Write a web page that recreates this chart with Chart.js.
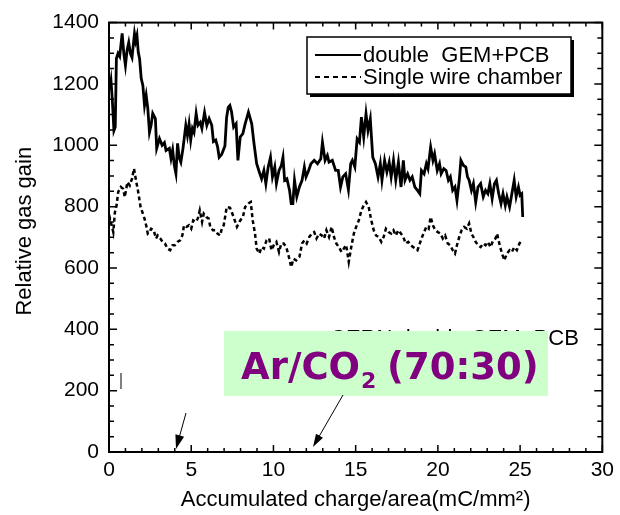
<!DOCTYPE html>
<html><head><meta charset="utf-8">
<script src="https://cdn.jsdelivr.net/npm/chart.js@4"></script>
<style>html,body{margin:0;padding:0;background:#fff}canvas{display:block}</style>
</head><body>
<canvas id="c" width="620" height="515"></canvas>
<script>
// ---- data ----
const gemX = [0.0,0.06,0.12,0.2,0.3,0.38,0.45,0.55,0.65,0.8,0.9,1.0,1.1,1.2,1.3,1.4,1.55,1.62,1.7,1.78,1.86,1.96,2.06,2.16,2.26,2.36,2.46,2.56,2.66,2.82,2.9,3.07,3.23,3.37,3.47,3.67,3.77,3.87,3.97,4.07,4.17,4.27,4.37,4.5,4.67,4.77,4.87,4.97,5.07,5.17,5.3,5.41,5.55,5.65,5.81,5.95,6.09,6.25,6.35,6.49,6.6,6.7,6.85,7.05,7.15,7.25,7.35,7.45,7.58,7.73,7.84,7.98,8.14,8.28,8.48,8.68,8.82,8.98,9.14,9.28,9.42,9.54,9.68,9.82,9.94,10.08,10.18,10.34,10.48,10.58,10.68,10.82,10.98,11.08,11.18,11.28,11.42,11.58,11.74,11.88,11.98,12.14,12.28,12.48,12.68,12.88,12.98,13.14,13.28,13.38,13.58,13.78,13.94,14.08,14.22,14.39,14.56,14.7,14.8,14.95,15.09,15.23,15.35,15.49,15.63,15.75,15.89,16.04,16.2,16.36,16.5,16.6,16.76,16.9,17.04,17.16,17.3,17.44,17.6,17.76,17.9,18.0,18.16,18.3,18.44,18.6,18.76,18.9,19.0,19.16,19.3,19.4,19.56,19.7,19.8,19.96,20.1,20.2,20.36,20.5,20.64,20.76,20.9,21.04,21.16,21.3,21.4,21.56,21.7,21.8,21.9,22.04,22.16,22.3,22.44,22.6,22.76,22.9,23.04,23.16,23.3,23.44,23.56,23.7,23.84,23.96,24.1,24.2,24.36,24.5,24.64,24.76,24.9,25.0,25.1,25.16];
const gemY = [1185,1190,1211,1150,1048,1060,1283,1300,1290,1365,1300,1260,1310,1335,1300,1286,1364,1340,1358,1303,1282,1218,1195,1130,1163,1120,1042,1065,1104,1087,990,1022,1000,1009,983,990,957,985,935,908,1006,960,945,990,1065,1032,1070,1017,1055,1042,1104,1065,1075,1055,1107,1065,1087,1065,1012,1017,996,961,970,998,1090,1124,1130,1110,1059,1070,951,1027,1038,1070,1108,1070,1005,940,913,891,918,875,929,961,897,929,875,918,934,961,886,891,853,810,810,886,832,864,886,929,897,918,940,951,940,956,1010,951,967,945,951,918,918,864,897,907,855,940,951,929,1021,1010,1092,1027,1103,1048,1086,961,940,897,940,886,951,913,945,897,951,886,945,864,951,886,907,886,897,864,853,842,918,907,940,924,994,951,972,918,940,907,924,918,886,897,853,864,820,886,951,934,929,897,886,853,875,815,864,875,832,853,842,875,826,875,886,842,810,842,804,832,799,842,886,832,864,837,842,766];
const wireX = [0.0,0.06,0.16,0.26,0.36,0.46,0.56,0.72,0.86,0.96,1.12,1.26,1.4,1.52,1.66,1.76,1.92,2.06,2.16,2.26,2.36,2.46,2.56,2.72,2.86,2.96,3.12,3.26,3.4,3.56,3.72,3.86,4.0,4.16,4.32,4.46,4.56,4.72,4.86,5.0,5.12,5.26,5.4,5.52,5.66,5.76,5.92,6.06,6.16,6.32,6.46,6.6,6.76,6.86,6.98,7.16,7.36,7.58,7.78,7.98,8.14,8.28,8.48,8.62,8.74,8.88,8.98,9.14,9.28,9.42,9.58,9.74,9.88,10.02,10.18,10.34,10.48,10.62,10.78,10.94,11.08,11.22,11.38,11.58,11.74,11.88,12.02,12.18,12.34,12.48,12.62,12.78,12.94,13.08,13.22,13.38,13.54,13.68,13.82,13.98,14.14,14.28,14.42,14.58,14.75,14.89,15.03,15.19,15.35,15.49,15.63,15.79,15.95,16.1,16.24,16.4,16.56,16.7,16.84,17.0,17.16,17.3,17.44,17.6,17.76,17.9,18.04,18.2,18.36,18.5,18.64,18.76,18.9,19.04,19.16,19.3,19.44,19.56,19.7,19.84,20.0,20.16,20.3,20.44,20.6,20.76,20.9,21.04,21.16,21.3,21.44,21.6,21.76,21.9,22.04,22.16,22.3,22.44,22.6,22.76,22.9,23.04,23.2,23.36,23.5,23.6,23.76,23.9,24.04,24.2,24.36,24.5,24.64,24.8,24.96,25.1];
const wireY = [750,761,739,717,782,804,848,864,858,831,880,869,891,924,880,853,799,777,761,739,712,717,728,723,696,706,696,685,680,663,658,674,674,685,690,706,739,734,739,728,755,750,761,788,750,777,766,761,734,723,723,712,706,728,740,799,796,766,734,755,766,799,810,815,755,712,663,647,668,663,690,696,658,674,685,652,680,680,668,636,603,630,625,636,680,690,680,701,712,717,696,712,706,696,723,701,734,701,680,668,652,663,675,620,674,712,734,755,788,804,815,799,755,723,706,701,685,701,728,717,712,723,706,723,712,701,680,685,674,668,663,658,680,701,717,734,728,766,739,723,717,712,696,706,680,674,658,647,674,701,723,734,728,745,712,701,685,674,668,680,674,685,668,690,696,712,674,647,625,647,658,652,668,658,680,690];
const seriesLabels = ['double  GEM+PCB', 'Single wire chamber'];
const xTitle = 'Accumulated charge/area(mC/mm\u00B2)';
const yTitle = 'Relative gas gain';
const xRange = [0, 30], xMajor = 5, xMinor = 1;
const yRange = [0, 1400], yMajor = 200, yMinor = 50;
const gasParts = ['Ar/CO', '2', '(70:30)'];
const hiddenNote = 'CERN double GEM+PCB';

const F = "'Liberation Sans', Arial, sans-serif";
const toPts = (xs, ys) => xs.map((v, i) => ({x: v, y: ys[i]}));

function arrow(ctx, x0, y0, x1, y1, hl, hw) {
  const ang = Math.atan2(y1 - y0, x1 - x0);
  ctx.beginPath(); ctx.moveTo(x0, y0);
  ctx.lineTo(x1 - Math.cos(ang) * hl * 0.8, y1 - Math.sin(ang) * hl * 0.8); ctx.stroke();
  ctx.beginPath(); ctx.moveTo(x1, y1);
  ctx.lineTo(x1 - Math.cos(ang) * hl + Math.sin(ang) * hw, y1 - Math.sin(ang) * hl - Math.cos(ang) * hw);
  ctx.lineTo(x1 - Math.cos(ang) * hl - Math.sin(ang) * hw, y1 - Math.sin(ang) * hl + Math.cos(ang) * hw);
  ctx.closePath(); ctx.fill();
}

const deco = {
  id: 'deco',
  afterDatasetsDraw(chart) {
    const {ctx, chartArea: a, scales: {x, y}} = chart;
    ctx.save();
    ctx.strokeStyle = '#000'; ctx.fillStyle = '#000';
    // inward ticks on all four sides
    ctx.lineWidth = 1.5;
    ctx.beginPath();
    for (let v = xRange[0]; v <= xRange[1]; v += xMinor) {
      const px = x.getPixelForValue(v), L = v % xMajor === 0 ? 7 : 4;
      ctx.moveTo(px, a.bottom); ctx.lineTo(px, a.bottom - L);
      ctx.moveTo(px, a.top); ctx.lineTo(px, a.top + L);
    }
    for (let v = yRange[0]; v <= yRange[1]; v += yMinor) {
      const py = y.getPixelForValue(v), L = v % yMajor === 0 ? 8 : 5;
      ctx.moveTo(a.left, py); ctx.lineTo(a.left + L, py);
      ctx.moveTo(a.right, py); ctx.lineTo(a.right - L, py);
    }
    ctx.stroke();
    ctx.lineWidth = 2;
    ctx.strokeRect(a.left, a.top, a.right - a.left, a.bottom - a.top);

    // legend box with shadow
    const lx = 307, ly = 37, lw = 264, lh = 57;
    ctx.fillStyle = '#000'; ctx.fillRect(lx + 3, ly + 3, lw, lh);
    ctx.fillStyle = '#fff'; ctx.fillRect(lx, ly, lw, lh);
    ctx.lineWidth = 1.5; ctx.strokeRect(lx, ly, lw, lh);
    ctx.lineWidth = 2.2;
    ctx.beginPath(); ctx.moveTo(315, 55); ctx.lineTo(361, 55); ctx.stroke();
    ctx.setLineDash([5, 4]);
    ctx.beginPath(); ctx.moveTo(315, 77); ctx.lineTo(361, 77); ctx.stroke();
    ctx.setLineDash([]);
    ctx.fillStyle = '#000'; ctx.font = '22px ' + F; ctx.textBaseline = 'alphabetic'; ctx.textAlign = 'left';
    ctx.fillText(chart.data.datasets[0].label, 363, 62);
    ctx.fillText(chart.data.datasets[1].label, 363, 84);

    // partly hidden note, then the green label box on top
    ctx.fillText(hiddenNote, 330, 345);
    ctx.fillStyle = '#ccffcc'; ctx.fillRect(224, 331, 324, 65);
    ctx.fillStyle = '#800080';
    ctx.font = "bold 37px 'DejaVu Sans', Verdana, sans-serif";
    ctx.fillText(gasParts[0], 241, 379);
    ctx.font = "bold 22px 'DejaVu Sans', Verdana, sans-serif";
    ctx.fillText(gasParts[1], 361, 388);
    ctx.font = "bold 37px 'DejaVu Sans', Verdana, sans-serif";
    ctx.fillText(gasParts[2], 387, 379);

    // small mark and arrows
    ctx.strokeStyle = '#000'; ctx.fillStyle = '#000'; ctx.lineWidth = 1;
    ctx.beginPath(); ctx.moveTo(121, 373); ctx.lineTo(121, 389); ctx.stroke();
    arrow(ctx, 186, 413, 176, 449, 14, 4.5);
    arrow(ctx, 343, 395, 313, 447, 13, 4);
    ctx.restore();
  }
};

new Chart(document.getElementById('c'), {
  type: 'line',
  data: {
    datasets: [
      {label: seriesLabels[0], data: toPts(gemX, gemY), borderColor: '#000', borderWidth: 2.8, pointRadius: 0, fill: false},
      {label: seriesLabels[1], data: toPts(wireX, wireY), borderColor: '#000', borderWidth: 2.5, borderDash: [4, 3], pointRadius: 0, fill: false}
    ]
  },
  options: {
    responsive: false, animation: false, devicePixelRatio: 1,
    layout: {padding: {top: 22, right: 12, left: 0, bottom: 0}},
    plugins: {legend: {display: false}, tooltip: {enabled: false}},
    elements: {line: {tension: 0}},
    scales: {
      x: {
        type: 'linear', min: xRange[0], max: xRange[1],
        ticks: {stepSize: xMajor, font: {family: F, size: 21}, color: '#000', padding: 6, maxRotation: 0, autoSkip: false, callback: v => String(v)},
        grid: {display: false, drawTicks: false}, border: {display: false},
        title: {display: true, text: xTitle, font: {family: F, size: 22}, color: '#000', padding: {top: 0, bottom: 2}},
        afterFit(s) { s.height = 63; }
      },
      y: {
        type: 'linear', min: yRange[0], max: yRange[1],
        ticks: {stepSize: yMajor, font: {family: F, size: 21}, color: '#000', padding: 10, callback: v => String(v)},
        grid: {display: false, drawTicks: false}, border: {display: false},
        title: {display: true, text: '  ' + yTitle, font: {family: F, size: 22}, color: '#000', padding: {top: 12, bottom: 0}},
        afterFit(s) { s.width = 109; }
      }
    }
  },
  plugins: [deco]
});
</script>
</body></html>
